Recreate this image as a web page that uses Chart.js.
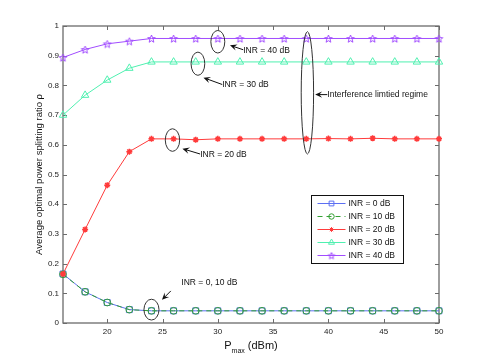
<!DOCTYPE html>
<html><head><meta charset="utf-8">
<script src="https://cdn.jsdelivr.net/npm/chart.js@4.4.0/dist/chart.umd.min.js"></script>
<style>html,body{margin:0;padding:0;background:#fff}#wrap{width:485px;height:363px;position:relative}</style>
</head><body><div id="wrap"><canvas id="c"></canvas></div>
<script>
// ---- data ----
const xValues = [16,18,20,22,24,26,28,30,32,34,36,38,40,42,44,46,48,50];
const inr0  = [0.165,0.105,0.069,0.045,0.041,0.041,0.041,0.041,0.041,0.041,0.041,0.041,0.041,0.041,0.041,0.041,0.041,0.041];
const inr10 = [0.164,0.105,0.069,0.045,0.041,0.041,0.041,0.041,0.041,0.041,0.041,0.041,0.041,0.041,0.041,0.041,0.041,0.041];
const inr20 = [0.165,0.315,0.464,0.577,0.620,0.620,0.617,0.620,0.620,0.620,0.620,0.620,0.621,0.620,0.622,0.620,0.620,0.620];
const inr30 = [0.700,0.767,0.818,0.858,0.879,0.879,0.879,0.879,0.879,0.879,0.879,0.879,0.879,0.879,0.879,0.879,0.879,0.879];
const inr40 = [0.894,0.921,0.940,0.949,0.958,0.958,0.958,0.958,0.958,0.958,0.958,0.958,0.958,0.958,0.958,0.958,0.958,0.958];
const seriesLabels = ['INR = 0 dB','INR = 10 dB','INR = 20 dB','INR = 30 dB','INR = 40 dB'];
const xTicks = [20,25,30,35,40,45,50];
const yTicks = [0,0.1,0.2,0.3,0.4,0.5,0.6,0.7,0.8,0.9,1];
const yTitle = 'Average optimal power splitting ratio \u03c1';

// annotations (data coordinates)
const ellipses = [
  {x:30.0, y:0.947, rx:0.63, ry:0.038},
  {x:28.2, y:0.873, rx:0.62, ry:0.039},
  {x:25.9, y:0.616, rx:0.65, ry:0.038},
  {x:38.1, y:0.775, rx:0.56, ry:0.206},
  {x:24.0, y:0.045, rx:0.68, ry:0.035}
];
const arrows = [
  {tip:[31.1,0.935], tail:[32.3,0.920], text:'INR = 40 dB', tx:32.3, ty:0.917, align:'left'},
  {tip:[28.7,0.826], tail:[30.4,0.803], text:'INR = 30 dB', tx:30.4, ty:0.803, align:'left'},
  {tip:[26.8,0.587], tail:[28.4,0.569], text:'INR = 20 dB', tx:28.4, ty:0.567, align:'left'},
  {tip:[38.8,0.769], tail:[39.9,0.769], text:'Interference limtied regime', tx:39.9, ty:0.769, align:'left'},
  {tip:[24.95,0.078], tail:[25.75,0.108], text:'INR = 0, 10 dB', tx:26.7, ty:0.137, align:'left'}
];

const FONT = '"Liberation Sans", Arial, Helvetica, sans-serif';

// pentagram marker image
function pentagram(color, r){
  const s = Math.ceil(r*2+3), c = document.createElement('canvas');
  c.width = s; c.height = s;
  const g = c.getContext('2d');
  g.strokeStyle = color; g.lineWidth = 1;
  g.beginPath();
  for (let i=0;i<10;i++){
    const ang = -Math.PI/2 + i*Math.PI/5;
    const rr = (i%2===0) ? r : r*0.42;
    const px = s/2 + rr*Math.cos(ang), py = s/2 + 0.5 + rr*Math.sin(ang);
    if (i===0) g.moveTo(px,py); else g.lineTo(px,py);
  }
  g.closePath(); g.stroke();
  return c;
}
const purple = '#a14cff';
const starImg = pentagram(purple, 4);
const starImgSmall = pentagram(purple, 3.5);

const pts = (arr)=>arr.map((v,i)=>({x:xValues[i], y:v}));
const datasets = [
  {label:seriesLabels[0], data:pts(inr0), borderColor:'#5c6ff2', pointStyle:'rect', pointRadius:4.2, order:2},
  {label:seriesLabels[1], data:pts(inr10), borderColor:'#33a033', borderDash:[5,4], pointStyle:'circle', pointRadius:3.4, order:1},
  {label:seriesLabels[2], data:pts(inr20), borderColor:'#ff3b3b', pointStyle:'star', pointRadius:3, pointBorderWidth:1.5, order:0},
  {label:seriesLabels[3], data:pts(inr30), borderColor:'#4ff0b0', pointStyle:'triangle', pointRadius:4.3, order:3},
  {label:seriesLabels[4], data:pts(inr40), borderColor:purple, pointStyle:starImg, pointRadius:4, order:4}
].map(d=>Object.assign({
  borderWidth:1, pointBorderColor:d.borderColor, pointBackgroundColor:'rgba(0,0,0,0)',
  pointBorderWidth:d.pointBorderWidth||1, tension:0, clip:false, fill:false
}, d));

const deco = {
  id:'deco',
  beforeDatasetsDraw(chart){
    const {ctx, chartArea:a, scales:{x,y}} = chart;
    ctx.save();
    ctx.strokeStyle = '#6b6b6b'; ctx.lineWidth = 1.3;
    ctx.strokeRect(a.left, a.top, a.right-a.left, a.bottom-a.top);
    ctx.lineWidth = 1;
    const tl = 4;
    ctx.beginPath();
    x.ticks.forEach(t=>{ const px = Math.round(x.getPixelForValue(t.value))+0.5;
      ctx.moveTo(px,a.bottom); ctx.lineTo(px,a.bottom-tl);
      ctx.moveTo(px,a.top); ctx.lineTo(px,a.top+tl); });
    y.ticks.forEach(t=>{ const py = Math.round(y.getPixelForValue(t.value))+0.5;
      ctx.moveTo(a.left,py); ctx.lineTo(a.left+tl,py);
      ctx.moveTo(a.right,py); ctx.lineTo(a.right-tl,py); });
    ctx.stroke();
    ctx.restore();
  },
  afterDatasetsDraw(chart){
    const {ctx, chartArea:a, scales:{x,y}} = chart;
    ctx.save();
    ctx.strokeStyle = '#333'; ctx.lineWidth = 1;
    ellipses.forEach(e=>{
      const cx = x.getPixelForValue(e.x), cy = y.getPixelForValue(e.y);
      const rx = Math.abs(x.getPixelForValue(e.x+e.rx)-cx), ry = Math.abs(y.getPixelForValue(e.y+e.ry)-cy);
      ctx.beginPath(); ctx.ellipse(cx,cy,rx,ry,0,0,Math.PI*2); ctx.stroke();
    });
    ctx.font = '8.5px '+FONT; ctx.fillStyle = '#111'; ctx.textBaseline = 'middle';
    arrows.forEach(ar=>{
      const x1 = x.getPixelForValue(ar.tail[0]), y1 = y.getPixelForValue(ar.tail[1]);
      const x2 = x.getPixelForValue(ar.tip[0]), y2 = y.getPixelForValue(ar.tip[1]);
      const ang = Math.atan2(y2-y1, x2-x1);
      const L = 7, W = 3.2;
      ctx.strokeStyle = '#111'; ctx.lineWidth = 1; ctx.fillStyle = '#111';
      ctx.beginPath(); ctx.moveTo(x1,y1); ctx.lineTo(x2-Math.cos(ang)*3, y2-Math.sin(ang)*3); ctx.stroke();
      const bx = x2 - Math.cos(ang)*L, by = y2 - Math.sin(ang)*L;
      const nx = -Math.sin(ang), ny = Math.cos(ang);
      const mx = x2 - Math.cos(ang)*L*0.6, my = y2 - Math.sin(ang)*L*0.6;
      ctx.beginPath(); ctx.moveTo(x2,y2);
      ctx.lineTo(bx+nx*W, by+ny*W); ctx.lineTo(mx,my); ctx.lineTo(bx-nx*W, by-ny*W);
      ctx.closePath(); ctx.fill();
      ctx.textAlign = ar.align;
      ctx.fillText(ar.text, x.getPixelForValue(ar.tx), y.getPixelForValue(ar.ty));
    });
    // legend
    const bw = 92, bh = 68;
    const bx0 = Math.round(a.right - 36 - bw)+0.5, by0 = Math.round(a.top + 169)+0.5;
    ctx.fillStyle = '#fff'; ctx.fillRect(bx0,by0,bw,bh);
    ctx.strokeStyle = '#111'; ctx.lineWidth = 1; ctx.strokeRect(bx0,by0,bw,bh);
    ctx.textAlign = 'left'; ctx.textBaseline = 'middle'; ctx.font = '8.5px '+FONT;
    chart.data.datasets.forEach((d,i)=>{
      const ry = by0 + 8 + i*13;
      ctx.strokeStyle = d.borderColor; ctx.lineWidth = 1;
      ctx.setLineDash(d.borderDash||[]);
      ctx.beginPath(); ctx.moveTo(bx0+6, ry); ctx.lineTo(bx0+34, ry); ctx.stroke();
      ctx.setLineDash([]);
      ctx.fillStyle = 'rgba(0,0,0,0)';
      const ps = (d.pointStyle === starImg) ? starImgSmall : d.pointStyle;
      Chart.helpers.drawPoint(ctx, {pointStyle:ps, radius:d.pointRadius*0.8, borderWidth:d.pointBorderWidth, rotation:0}, bx0+20, ry);
      ctx.fillStyle = '#111';
      ctx.fillText(d.label, bx0+37, ry+0.5);
    });
    ctx.restore();
  },
  afterDraw(chart){
    const {ctx, chartArea:a} = chart;
    ctx.save();
    ctx.fillStyle = '#111';
    ctx.font = '9.5px '+FONT; ctx.textAlign = 'center'; ctx.textBaseline = 'middle';
    ctx.translate(39, (a.top+a.bottom)/2); ctx.rotate(-Math.PI/2);
    ctx.fillText(yTitle, 0, 0);
    ctx.setTransform(1,0,0,1,0,0);
    const cx = (a.left+a.right)/2, base = 352;
    ctx.textBaseline = 'alphabetic'; ctx.textAlign = 'left';
    const f1 = '11px '+FONT, f2 = '7px '+FONT;
    ctx.font = f1; const wP = ctx.measureText('P').width, wU = ctx.measureText(' (dBm)').width;
    ctx.font = f2; const wS = ctx.measureText('max').width;
    let sx = cx - (wP+wS+wU)/2;
    ctx.font = f1; ctx.fillText('P', sx, base - 3);
    ctx.font = f2; ctx.fillText('max', sx+wP, base + 1);
    ctx.font = f1; ctx.fillText(' (dBm)', sx+wP+wS, base - 3);
    ctx.restore();
  }
};

new Chart(document.getElementById('c'), {
  type:'line',
  data:{datasets},
  options:{
    responsive:true, maintainAspectRatio:false, animation:false,
    layout:{padding:{top:26, right:46, left:0, bottom:0}},
    plugins:{legend:{display:false}, tooltip:{enabled:false}},
    scales:{
      x:{type:'linear', min:16, max:50,
        afterBuildTicks:(s)=>{ s.ticks = xTicks.map(v=>({value:v})); },
        afterFit:(s)=>{ s.height = 40; },
        grid:{display:false, drawTicks:false}, border:{display:false},
        ticks:{font:{size:8, family:FONT}, color:'#222', padding:4, maxRotation:0, autoSkip:false}},
      y:{type:'linear', min:0, max:1,
        afterBuildTicks:(s)=>{ s.ticks = yTicks.map(v=>({value:v})); },
        afterFit:(s)=>{ s.width = 63; },
        grid:{display:false, drawTicks:false}, border:{display:false},
        ticks:{font:{size:8, family:FONT}, color:'#222', padding:4, autoSkip:false,
          callback:(v)=>String(Math.round(v*10)/10)}}
    }
  },
  plugins:[deco]
});
</script></body></html>
